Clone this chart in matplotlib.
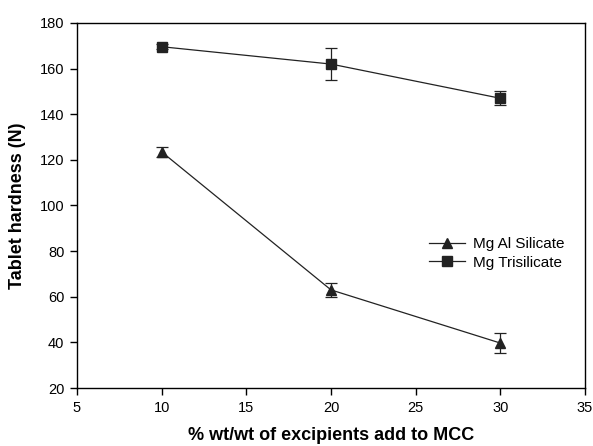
import matplotlib.pyplot as plt
from matplotlib.lines import Line2D

plt.rcParams['font.family'] = ['Liberation Sans', 'DejaVu Sans']

conc = [10, 20, 30]
al_silicate = [123.5, 63, 39.7]
al_silicate_err = [2.2, 3, 4.5]
trisilicate = [169.6, 162, 147]
trisilicate_err = [1.2, 7, 3]

fig = plt.figure(figsize=(5.93, 4.46), dpi=100)
ax = fig.add_axes([77 / 593, 1 - 388 / 446, (585 - 77) / 593, (388 - 23) / 446])

line_color = '#222222'
ax.errorbar(conc, al_silicate, yerr=al_silicate_err, color=line_color, marker='^',
            markersize=6.5, linewidth=0.9, capsize=4, elinewidth=0.9, capthick=0.9)
ax.errorbar(conc, trisilicate, yerr=trisilicate_err, color=line_color, marker='s',
            markersize=6.5, linewidth=0.9, capsize=4, elinewidth=0.9, capthick=0.9)

ax.set_xlim(5, 35)
ax.set_ylim(20, 180)
ax.set_xticks([5, 10, 15, 20, 25, 30, 35])
ax.set_yticks(range(20, 181, 20))
ax.tick_params(direction='out', length=5, width=1, labelsize=10.5, colors='black', pad=4)
for s in ax.spines.values():
    s.set_linewidth(1.0)

ax.set_xlabel('% wt/wt of excipients add to MCC', fontsize=13, fontweight='bold', labelpad=9)
ax.set_ylabel('Tablet hardness (N)', fontsize=13, fontweight='bold', labelpad=10)

handles = [Line2D([], [], color=line_color, marker='^', markersize=6.5, linewidth=0.9),
           Line2D([], [], color=line_color, marker='s', markersize=6.5, linewidth=0.9)]
ax.legend(handles, ['Mg Al Silicate', 'Mg Trisilicate'], loc='upper left',
          bbox_to_anchor=(0.68, 0.43), frameon=False, fontsize=11,
          handlelength=2.4, borderaxespad=0, handletextpad=0.5, labelspacing=0.3)

fig.savefig('out.png', dpi=100)
